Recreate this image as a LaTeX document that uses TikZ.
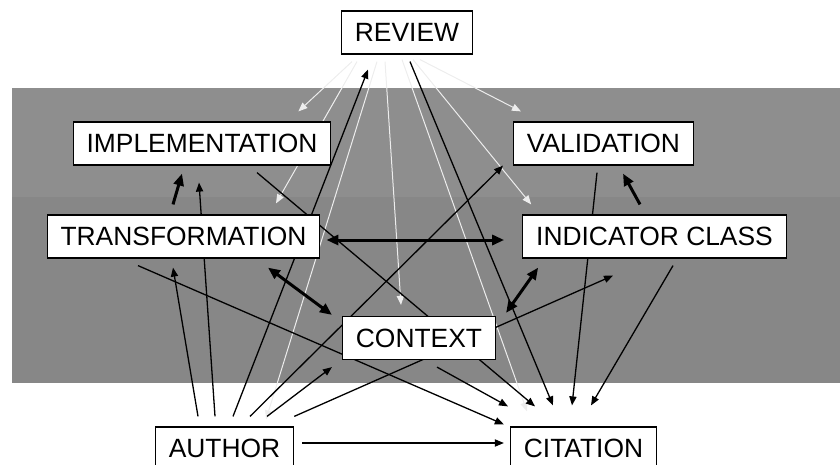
\documentclass[tikz,border=0pt]{standalone}
\usepackage{fontspec}
\setmainfont{Liberation Sans}
\usetikzlibrary{arrows.meta,calc}

\pgfdeclarelayer{band}
\pgfdeclarelayer{wires}
\pgfsetlayers{band,wires,main}

\definecolor{bandhaut}{gray}{0.555}
\definecolor{bandbas}{gray}{0.53}
\definecolor{blanc}{gray}{0.93}

\begin{document}
\begin{tikzpicture}[
  x=0.5pt, y=-0.5pt,
  concept/.style = {draw, fill=white, line width=0.6pt, minimum height=21.5pt,
                    inner xsep=6.7pt, inner ysep=0pt,
                    font=\fontsize{13.2}{15}\selectfont},
  lien/.style    = {-{Triangle[length=4.5pt,width=3.6pt]}, line width=0.65pt},
  fort/.style    = {-{Triangle[length=6pt,width=5pt]}, line width=1.5pt},
  double/.style  = {{Triangle[length=6pt,width=5pt]}-{Triangle[length=6pt,width=5pt]}, line width=1.5pt},
  pale/.style    = {-{Triangle[length=4.5pt,width=3.6pt]}, line width=0.5pt, draw=blanc}
]
\useasboundingbox (0,0) rectangle (840,465);

% grey band behind the middle rows
\begin{pgfonlayer}{band}
  \fill[bandhaut] (12,88) rectangle (840,197);
  \fill[bandbas]  (12,197) rectangle (840,383);
\end{pgfonlayer}

\node[concept] (review)         at (407,32.5)  {REVIEW};
\node[concept] (implementation) at (202,143.5) {IMPLEMENTATION};
\node[concept] (validation)     at (603.5,143.5) {VALIDATION};
\node[concept] (transformation) at (183.5,236.5) {TRANSFORMATION};
\node[concept] (indicator)      at (654.5,236.5) {INDICATOR CLASS};
\node[concept] (context)        at (419,338)   {CONTEXT};
\node[concept] (author)         at (224.5,448.5) {AUTHOR};
\node[concept] (citation)       at (583.5,448.5) {CITATION};

\begin{pgfonlayer}{wires}
% review to everything, light lines
\draw[pale] ($(review.south)+(-55,7)$) -- ($(implementation.north east)+(-33,-10)$);
\draw[pale] ($(review.south)+(-50,7)$) -- ($(transformation.north)+(92.5,-11)$);
\draw[pale] ($(review.south)+(-30,7)$) -- ($(author.north)+(41.5,-7)$);
\draw[pale] ($(review.south)+(-22,7)$) -- ($(context.north)+(-18,-11)$);
\draw[pale] ($(review.south)+(-5,5)$)  -- ($(citation.north)+(-56.5,-15)$);
\draw[pale] ($(review.south)+(6,5)$)   -- ($(indicator.north west)+(9,-10)$);
\draw[pale] ($(review.south)+(13,5)$)  -- ($(validation.north west)+(8,-10)$);
\draw[lien] ($(review.south)+(3,7)$)   -- ($(citation.north)+(-30.5,-21)$);

% author
\draw[lien] ($(author.north)+(-26.5,-10)$) -- ($(transformation.south)+(-10.5,9)$);
\draw[lien] ($(author.north)+(-9.5,-10)$)  -- ($(implementation.south)+(-3,17)$);
\draw[lien] ($(author.north)+(8.5,-10)$)   -- ($(review.south)+(-39,15)$);
\draw[lien] ($(author.north)+(25.5,-10)$)  -- ($(validation.south west)+(-10,0)$);
\draw[lien] ($(author.north)+(42.5,-10)$)  -- ($(context.south west)+(-10,7)$);
\draw[lien] ($(author.north east)+(0,-10)$) -- ($(indicator.south)+(-41.5,17)$);
\draw[lien] ($(author.east)+(8,-5.5)$)     -- ($(citation.west)+(-6,-5.5)$);

% transformation
\draw[fort]   ($(transformation.north)+(-10.5,-10)$) -- ($(implementation.south)+(-20,8)$);
\draw[double] ($(transformation.east)+(6,3.5)$)      -- ($(indicator.west)+(-18,3.5)$);
\draw[double] ($(transformation.south)+(84.5,9)$)    -- ($(context.north west)+(-10,-1)$);
\draw[lien]   ($(transformation.south)+(-45.5,7)$)   -- ($(citation.north west)+(-6,-2)$);

% implementation, validation, indicator class
\draw[lien] ($(implementation.south)+(55,7)$) -- ($(citation.north)+(-48.5,-20)$);
\draw[lien] ($(validation.south)+(-6.5,7)$)   -- ($(citation.north)+(-11.5,-21)$);
\draw[fort] ($(indicator.north)+(-14.5,-10)$) -- ($(validation.south)+(19.5,8)$);
\draw[lien] ($(indicator.south)+(18.5,7)$)    -- ($(citation.north)+(7.5,-21)$);

% context
\draw[double] ($(context.north east)+(10,-3)$) -- ($(indicator.south west)+(16,9)$);
\draw[lien]   ($(context.south)+(18,7)$)       -- ($(citation.north)+(-75.5,-20)$);
\end{pgfonlayer}
\end{tikzpicture}
\end{document}
